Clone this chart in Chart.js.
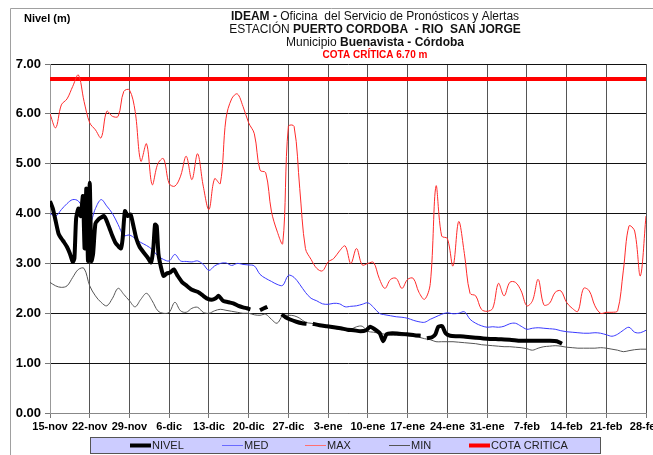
<!DOCTYPE html>
<html lang="es">
<head>
<meta charset="UTF-8" />
<title>Nivel - Puerto Cordoba - Rio San Jorge</title>
<script src="https://cdn.jsdelivr.net/npm/chart.js"></script>
<style>
  html, body { margin: 0; padding: 0; background: #fff; }
  #grafico { display: block; }
</style>
</head>
<body>
<canvas id="grafico" width="653" height="455"></canvas>
<script>
  // Etiquetas del eje X (una cada 7 dias, desde el 15-nov)
  const etiquetas = ['15-nov', '22-nov', '29-nov', '6-dic', '13-dic', '20-dic', '27-dic', '3-ene',
    '10-ene', '17-ene', '24-ene', '31-ene', '7-feb', '14-feb', '21-feb', '28-feb'];

  const cotaCritica = 6.70;

  // Valores diarios (dia 0 = 15-nov)
  const maximos = [
    6.0, 5.72, 6.18, 6.3, 6.55, 6.78, 6.25, 5.82, 5.68, 5.52,
    6.05, 5.95, 5.95, 6.45, 6.48, 6.05, 5.05, 5.4, 4.58, 5.0,
    5.1, 4.6, 4.55, 4.75, 5.15, 4.68, 5.2, 4.55, 4.08, 4.7,
    4.6, 5.9, 6.3, 6.4, 6.15, 5.82, 5.6, 4.87, 4.82, 4.05,
    3.65, 3.4, 5.75, 5.75, 4.5, 3.3, 3.08, 2.9, 2.85, 3.03,
    3.1, 3.25, 3.35, 3.0, 3.3, 2.97, 3.0, 3.02, 2.7, 2.5,
    2.68, 2.7, 2.5, 2.68, 2.7, 2.42, 2.28, 2.6, 4.55, 3.55,
    3.5, 2.95, 3.84, 3.2, 2.4, 2.35, 2.08, 2.04, 2.1, 2.6,
    2.35, 2.62, 2.62, 2.45, 2.15, 2.25, 2.68, 2.17, 2.2, 2.42,
    2.45, 2.22, 2.1, 2.04, 2.5, 2.45, 2.15, 2.0, 2.02, 2.02,
    2.05, 2.85, 3.75, 3.65, 2.75, 3.95
  ];

  const medios = [
    4.0, 3.95, 4.08, 4.2, 4.28, 4.25, 4.05, 3.8, 4.1, 4.28,
    4.15, 4.0, 3.78, 3.56, 3.57, 3.5, 3.42, 3.36, 3.28, 3.15,
    3.08, 3.05, 3.18, 3.05, 3.04, 3.03, 3.05, 2.98, 2.86, 2.95,
    3.0, 3.01, 2.96, 3.0, 2.98, 2.97, 2.95, 2.78, 2.7, 2.64,
    2.58, 2.56, 2.76, 2.72, 2.58, 2.42, 2.3, 2.25, 2.19, 2.18,
    2.2, 2.19, 2.13, 2.14, 2.15, 2.18, 2.21, 2.12, 2.0, 1.97,
    1.95, 1.93, 1.92, 1.9, 1.86, 1.83, 1.82, 1.88, 1.93, 1.98,
    2.01, 1.99, 2.0, 2.03, 1.88, 1.8, 1.75, 1.72, 1.73, 1.72,
    1.74, 1.79, 1.8, 1.74, 1.68, 1.7, 1.71, 1.7, 1.69, 1.68,
    1.65, 1.63, 1.62, 1.61, 1.6, 1.6, 1.61, 1.6, 1.57, 1.54,
    1.58, 1.66, 1.72, 1.62, 1.61, 1.66
  ];

  const minimos = [
    2.62, 2.55, 2.52, 2.55, 2.72, 2.88, 2.9, 2.55, 2.35, 2.22,
    2.15, 2.3, 2.5, 2.38, 2.25, 2.13, 2.28, 2.4, 2.25, 2.05,
    2.0, 2.02, 2.22, 2.05, 2.02, 2.1, 2.12, 2.02, 2.0, 2.05,
    2.08, 2.06, 2.04, 2.02, 2.0, 2.0, 1.97, 1.96, 1.98, 1.88,
    1.8, 1.95, 1.96, 1.95, 1.9, 1.82, 1.8, 1.78, 1.76, 1.74,
    1.7, 1.68, 1.68, 1.68, 1.73, 1.74, 1.64, 1.62, 1.6, 1.58,
    1.56, 1.56, 1.55, 1.55, 1.54, 1.52, 1.49, 1.47, 1.43, 1.43,
    1.43, 1.43, 1.42, 1.41, 1.4, 1.39, 1.37, 1.36, 1.35, 1.34,
    1.33, 1.33, 1.32, 1.31, 1.29, 1.26, 1.3, 1.33, 1.34, 1.35,
    1.34, 1.32, 1.31, 1.3, 1.3, 1.3, 1.3, 1.31, 1.3, 1.28,
    1.26, 1.23, 1.25, 1.27, 1.28, 1.28
  ];

  // Nivel observado: lecturas con hora (dia fraccional), null = sin dato
  const diasNivel = [
    0, 0.5, 1, 1.5, 2, 2.5, 3, 3.5, 4, 4.3, 4.6, 5, 5.4, 5.8, 6.1, 6.4, 6.7, 7.0, 7.3, 7.6,
    8.0, 8.5, 9.0, 9.5, 10, 10.5, 11, 11.5, 12, 12.5, 12.8, 13.2, 13.7, 14.2, 14.7, 15.2, 15.8, 16.5, 17.2, 17.8,
    18.2, 18.5, 18.8, 19.1, 19.5, 20, 20.6, 21.2, 21.8, 22.5, 23.3, 24.1, 25, 26, 27, 27.6, 28.5, 29.2, 29.7, 30.5,
    31.5, 32.3, 33.2, 34, 34.7, 35.3, 36, 37, 37.7, 38.3, 39.5, 40.8, 41.5, 42.2, 43.4, 44.4, 45.2, 45.7, 46.3, 47.5,
    48.8, 50, 51.2, 52.4, 53.5, 54.7, 55.7, 56.4, 57.2, 58.1, 58.7, 59.3, 60.3, 61.5, 62.9, 64.2, 65.3, 65.8, 66.4, 67.3,
    67.9, 68.4, 69.1, 69.7, 70.5, 71.8, 73.2, 75, 77, 79, 81, 82.9, 84.5, 86.4, 88, 89.3, 90.2
  ];
  const nivel = [
    4.25, 4.1, 3.85, 3.6, 3.5, 3.42, 3.33, 3.2, 3.03, 3.1, 3.9, 4.1, 3.95, 4.35, 3.3, 4.5, 3.05, 4.62, 3.05, 3.2,
    3.8, 3.88, 3.92, 3.95, 3.85, 3.7, 3.55, 3.42, 3.35, 3.3, 3.5, 4.05, 3.95, 3.98, 3.75, 3.5, 3.33, 3.22, 3.12, 3.02,
    3.3, 3.78, 3.75, 3.2, 2.95, 2.75, 2.8, 2.82, 2.88, 2.75, 2.62, 2.55, 2.47, 2.43, 2.35, 2.3, 2.27, 2.3, 2.35, 2.25,
    2.22, 2.2, 2.15, 2.12, 2.1, 2.08, null, 2.06, 2.1, 2.13, null, 1.98, 1.92, 1.88, 1.83, 1.8, 1.79, null, 1.79, 1.76,
    1.74, 1.72, 1.7, 1.67, 1.66, 1.64, 1.66, 1.73, 1.68, 1.6, 1.44, 1.58, 1.6, 1.59, 1.58, 1.56, 1.55, null, 1.5, 1.52,
    1.58, 1.73, 1.74, 1.6, 1.55, 1.54, 1.53, 1.51, 1.49, 1.48, 1.47, 1.45, 1.45, 1.45, 1.45, 1.44, 1.39
  ];

  const FUENTE = '"Liberation Sans", Arial, sans-serif';

  const porDia = arr => arr.map((v, i) => ({ x: i, y: v }));
  const ultimoDia = (etiquetas.length - 1) * 7;

  // Titulo con partes en negrita
  const titulo = [
    [['IDEAM -', true], [' Oficina  del Servicio de Pronósticos y Alertas', false]],
    [['ESTACIÓN ', false], ['PUERTO CORDOBA  - RIO  SAN JORGE', true]],
    [['Municipio ', false], ['Buenavista - Córdoba', true]]
  ];

  const marcoYTitulo = {
    id: 'marcoYTitulo',
    afterDraw(chart) {
      const ctx = chart.ctx;
      ctx.save();
      // marco exterior
      ctx.strokeStyle = '#a0a0a0';
      ctx.lineWidth = 1;
      ctx.beginPath();
      ctx.moveTo(10.5, 455);
      ctx.lineTo(10.5, 8.5);
      ctx.lineTo(653, 8.5);
      ctx.stroke();

      ctx.fillStyle = '#000';
      ctx.textBaseline = 'middle';
      ctx.font = 'bold 11px ' + FUENTE;
      ctx.textAlign = 'left';
      ctx.fillText('Nivel (m)', 24, 19);

      const cx = 375;
      const ys = [17, 30, 43];
      titulo.forEach((linea, i) => {
        let ancho = 0;
        linea.forEach(([t, b]) => {
          ctx.font = (b ? 'bold ' : '') + '12px ' + FUENTE;
          ancho += ctx.measureText(t).width;
        });
        let x = cx - ancho / 2;
        linea.forEach(([t, b]) => {
          ctx.font = (b ? 'bold ' : '') + '12px ' + FUENTE;
          ctx.fillStyle = '#111';
          ctx.fillText(t, x, ys[i]);
          x += ctx.measureText(t).width;
        });
      });
      ctx.font = 'bold 10px ' + FUENTE;
      ctx.fillStyle = '#ff0000';
      ctx.textAlign = 'center';
      ctx.fillText('COTA CRÍTICA ' + cotaCritica.toFixed(2) + ' m', cx, 55);

      // leyenda
      ctx.fillStyle = '#ccccff';
      ctx.fillRect(90, 437, 511, 17);
      ctx.strokeStyle = '#555';
      ctx.strokeRect(90.5, 437.5, 510, 16);
      const posiciones = [130, 222, 305, 389, 469];
      ctx.font = '11px ' + FUENTE;
      ctx.textAlign = 'left';
      chart.data.datasets.forEach((ds, i) => {
        const x = posiciones[i];
        ctx.strokeStyle = ds.legendColor || ds.borderColor;
        ctx.lineWidth = ds.borderWidth;
        ctx.beginPath();
        ctx.moveTo(x, 445.5);
        ctx.lineTo(x + 21, 445.5);
        ctx.stroke();
        ctx.fillStyle = '#222';
        ctx.fillText(ds.label, x + 22, 446);
      });
      ctx.restore();
    }
  };

  new Chart(document.getElementById('grafico'), {
    type: 'line',
    data: {
      datasets: [
        {
          label: 'NIVEL',
          data: diasNivel.map((d, i) => ({ x: d, y: nivel[i] })),
          borderColor: '#000000',
          borderWidth: 4,
          tension: 0.2,
          spanGaps: false,
          borderJoinStyle: 'round'
        },
        {
          label: 'MED',
          data: porDia(medios),
          borderColor: '#3a3aff',
          legendColor: '#6a6aff',
          borderWidth: 1,
          tension: 0.35
        },
        {
          label: 'MAX',
          data: porDia(maximos),
          borderColor: '#ff2a2a',
          legendColor: '#ff7070',
          borderWidth: 1,
          tension: 0.35
        },
        {
          label: 'MIN',
          data: porDia(minimos),
          borderColor: '#555555',
          borderWidth: 1,
          tension: 0.35
        },
        {
          label: 'COTA CRITICA',
          data: [{ x: 0, y: cotaCritica }, { x: ultimoDia, y: cotaCritica }],
          borderColor: '#ff0000',
          borderWidth: 4,
          tension: 0
        }
      ]
    },
    options: {
      responsive: false,
      animation: false,
      events: [],
      layout: { padding: { top: 64, right: 7, bottom: 0, left: 0 } },
      elements: { point: { radius: 0 } },
      plugins: {
        legend: { display: false },
        tooltip: { enabled: false }
      },
      scales: {
        x: {
          type: 'linear',
          min: 0,
          max: ultimoDia,
          afterFit(scale) {
            scale.height = 42;
            scale.paddingLeft = 0;
            scale.paddingRight = 0;
          },
          ticks: {
            stepSize: 7,
            autoSkip: false,
            maxRotation: 0,
            padding: 2,
            color: '#000',
            font: { family: FUENTE, size: 11, weight: 'bold' },
            callback: v => etiquetas[v / 7] ?? ''
          },
          grid: { color: '#555', lineWidth: 1, tickLength: 5, tickColor: '#777' },
          border: { color: '#888' }
        },
        y: {
          min: 0,
          max: 7,
          afterFit(scale) {
            scale.width = 50;
          },
          ticks: {
            stepSize: 1,
            padding: 4,
            color: '#000',
            font: { family: FUENTE, size: 13, weight: 'bold' },
            callback: v => v.toFixed(2)
          },
          grid: { color: '#111', lineWidth: 1, tickLength: 5, tickColor: '#777' },
          border: { color: '#999' }
        }
      }
    },
    plugins: [marcoYTitulo]
  });
</script>
</body>
</html>
